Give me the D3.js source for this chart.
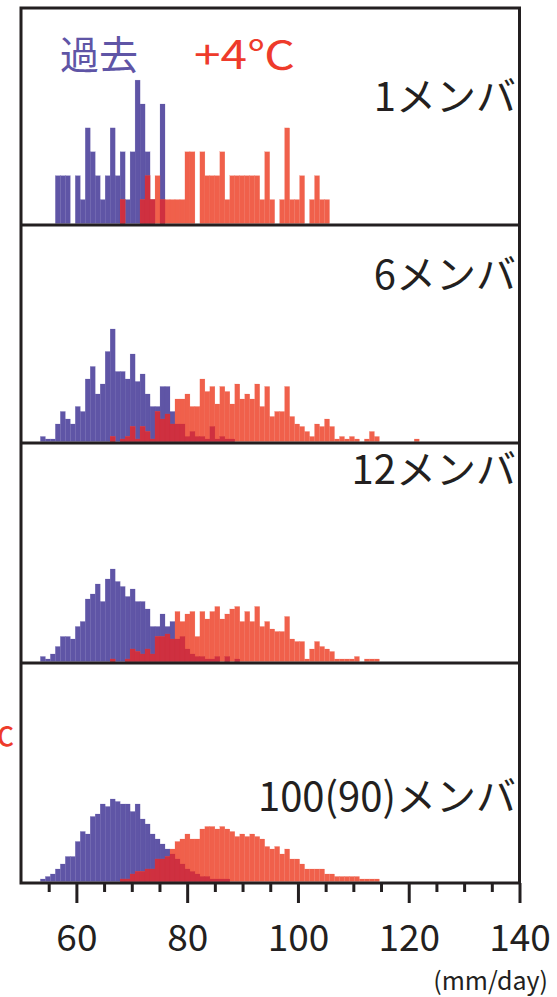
<!DOCTYPE html>
<html><head><meta charset="utf-8">
<script src="https://cdn.jsdelivr.net/npm/d3@7"></script>
<style>body{margin:0;background:#fff}svg{display:block}</style>
</head><body><script>
// ---- data ----
const binStart = 53.5;      // mm/day, left edge of bin 0
const binWidth = 0.9;       // mm/day
const panelLabels = ["1メンバ", "6メンバ", "12メンバ", "100(90)メンバ"];
const legendLabels = ["過去", "+4℃"];
const xTicksMajor = [60, 80, 100, 120, 140];
const xTicksMinor = [55, 65, 70, 75, 85, 90, 95, 105, 110, 115, 125, 130, 135];
const unitLabel = "(mm/day)";

// counts per bin (bin k starts at binStart + k*binWidth)
const past1 = [0,0,0,2,2,2,0,2,1,4,3,2,1,2,4,2,3,1,3,6,5,3,1,0,5];
const warm1 = [0,0,0,0,0,0,0,0,0,0,0,0,0,0,0,0,1,0,0,0,1,2,1,2,1,1,1,1,1,3,3,0,3,2,2,2,3,1,2,2,2,2,2,2,1,3,1,0,1,4,1,1,2,0,1,2,1,1];
const past6 = [2,1,1,7,12,9,7,14,12,25,30,19,23,36,45,28,28,25,35,24,27,19,14,14,22,22,12,7,7,2,4,2,2,1,6,1,2,1,1,0];
const warm6 = [0,0,0,0,0,0,0,0,0,0,0,0,0,0,2,0,1,2,6,1,6,4,1,12,9,11,7,17,17,19,14,14,25,20,22,15,22,20,15,23,17,19,17,23,14,22,10,12,12,22,10,7,6,4,2,7,6,9,6,1,2,1,2,1,0,1,4,2,0,0,0,0,0,0,0,1];
const past12 = [2,1,3,6,10,10,9,14,16,25,27,31,24,33,37,32,30,26,29,24,24,21,14,14,19,14,16,9,10,5,3,2,2,1,1,2,0,2,0,1];
const warm12 = [0,0,0,0,0,0,0,0,0,0,0,0,0,0,1,0,0,1,5,4,3,5,3,10,10,11,9,20,16,19,20,10,20,17,20,22,17,19,21,22,16,20,16,22,14,16,13,12,12,18,9,8,8,1,5,8,6,5,4,1,1,1,1,2,0,1,1,1];
const past100 = [1,2,3,5,7,10,10,16,20,19,26,27,31,30,33,32,31,31,28,31,25,23,19,17,15,13,11,9,7,5,4,3,2,2,1,1,1,1];
const warm100 = [0,0,0,0,0,0,0,0,0,0,0,0,0,0,0,0,1,1,3,4,4,5,5,9,9,10,13,16,17,19,17,17,21,22,22,21,22,21,20,18,19,18,19,18,17,14,13,14,11,13,9,9,7,5,5,5,5,3,3,2,2,2,2,2,1,1,1,1];

const panels = [
  {label: panelLabels[0], past: past1,   warm: warm1,   yMax: 9.08},
  {label: panelLabels[1], past: past6,   warm: warm6,   yMax: 87.2},
  {label: panelLabels[2], past: past12,  warm: warm12,  yMax: 88},
  {label: panelLabels[3], past: past100, warm: warm100, yMax: 88}
];

// ---- layout ----
const W = 557, H = 997;
const L = 21, R = 519.5;
const bounds = [8, 225, 443, 663, 883];
const colPast = "#5f55a6", colWarm = "#f0604b", colBoth = "#cf3040", ink = "#231f20", colRed = "#ee3b2b";
const font = "'Noto Sans CJK JP','Noto Sans',sans-serif";

const svg = d3.select("body").append("svg").attr("width", W).attr("height", H);
const x = d3.scaleLinear().domain([50, 140]).range([L, R]);

panels.forEach((p, i) => {
  const base = bounds[i + 1] - 1.5;
  const y = d3.scaleLinear().domain([0, p.yMax]).range([base, base - (bounds[i + 1] - bounds[i])]);
  const g = svg.append("g");
  const n = Math.max(p.past.length, p.warm.length);
  const rows = d3.range(n).map(k => ({k, b: p.past[k] || 0, r: p.warm[k] || 0}));
  const x0 = d => x(binStart + d.k * binWidth);
  const bw = d => x(binStart + (d.k + 1) * binWidth) - x(binStart + d.k * binWidth);
  const draw = (acc, color) => g.selectAll(null).data(rows.filter(d => acc(d) > 0)).join("rect")
    .attr("x", x0).attr("width", bw)
    .attr("y", d => y(acc(d))).attr("height", d => y(0) - y(acc(d)))
    .attr("fill", color).attr("stroke", color).attr("stroke-width", 0.3).attr("stroke-opacity", 0.6);
  draw(d => d.b, colPast);
  draw(d => d.r, colWarm);
  draw(d => Math.min(d.b, d.r), colBoth);

  svg.append("text").attr("x", 516).attr("y", [111, 289, 484, 811][i])
    .attr("text-anchor", "end").attr("font-family", font).attr("font-size", 40)
    .attr("fill", ink).text(p.label);
});

// frame and dividers
svg.append("rect").attr("x", L).attr("y", bounds[0]).attr("width", R - L).attr("height", bounds[4] - bounds[0])
  .attr("fill", "none").attr("stroke", ink).attr("stroke-width", 3);
[1, 2, 3].forEach(i => svg.append("line").attr("x1", L).attr("x2", R)
  .attr("y1", bounds[i]).attr("y2", bounds[i]).attr("stroke", ink).attr("stroke-width", 3));

// axis
const axMinor = svg.append("g").attr("transform", `translate(0,${bounds[4]})`)
  .call(d3.axisBottom(x).tickValues(xTicksMinor).tickSize(9).tickFormat(""));
const axMajor = svg.append("g").attr("transform", `translate(0,${bounds[4]})`)
  .call(d3.axisBottom(x).tickValues(xTicksMajor).tickSize(20).tickFormat(d3.format("d")));
[axMinor, axMajor].forEach(a => {
  a.select(".domain").remove();
  a.selectAll("line").attr("stroke", ink).attr("stroke-width", 3);
});
axMajor.selectAll("text").attr("y", 68).attr("dy", 0).attr("font-family", font)
  .attr("font-size", 37).attr("fill", ink);
svg.append("text").attr("x", 548).attr("y", 990).attr("text-anchor", "end")
  .attr("font-family", font).attr("font-size", 25).attr("fill", ink).text(unitLabel);

// legend
svg.append("text").attr("x", 60).attr("y", 69).attr("font-family", font).attr("font-size", 39)
  .attr("fill", colPast).text(legendLabels[0]);
svg.append("text").attr("x", 194).attr("y", 69).attr("font-family", font).attr("font-size", 39)
  .attr("textLength", 101).attr("lengthAdjust", "spacingAndGlyphs")
  .attr("fill", colRed).text(legendLabels[1]);
// cropped neighbour label at left edge
svg.append("text").attr("x", 14).attr("y", 746).attr("text-anchor", "end").attr("font-family", font)
  .attr("font-size", 26).attr("font-weight", 500).attr("fill", colRed).text(legendLabels[1]);
</script></body></html>
